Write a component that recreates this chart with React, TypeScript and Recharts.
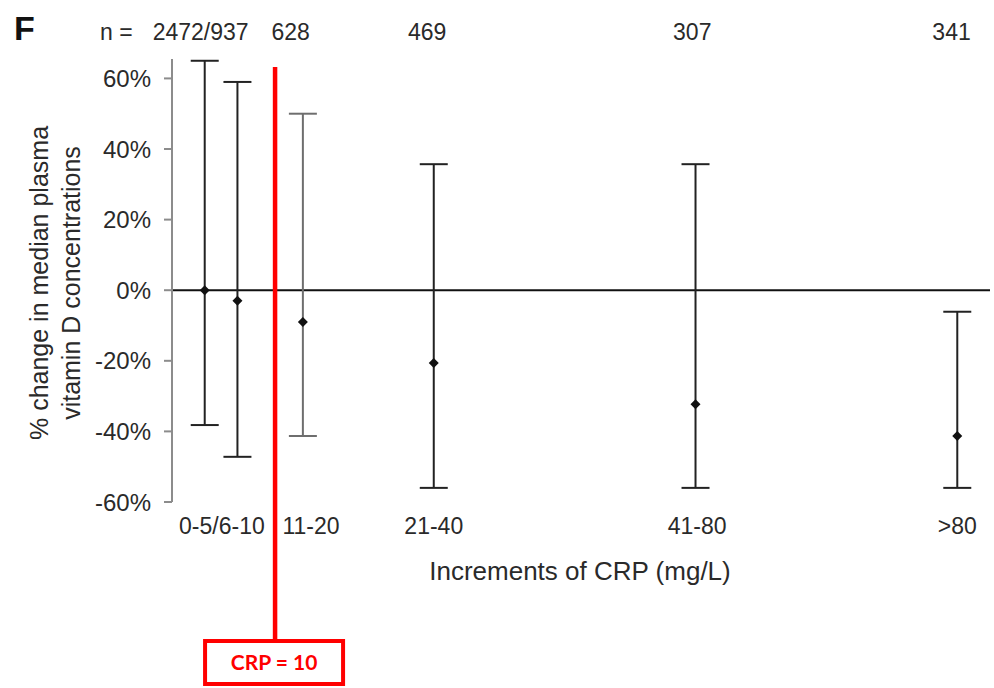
import React from 'react';
import {
  ComposedChart,
  Scatter,
  ErrorBar,
  XAxis,
  YAxis,
  ReferenceLine,
  Customized,
} from 'recharts';

// ---- data ----
const categories = ['0-5', '6-10', '11-20', '21-40', '41-80', '>80'];
const positions = [4, 8, 16, 32, 64, 96]; // placement on the CRP increments axis
const medianChange = [0, -3, -9, -20.6, -32.3, -41.3];
const lowerBound = [-38.2, -47.2, -41.3, -56, -56, -56];
const upperBound = [65, 59, 50, 35.7, 35.7, -6.1];
const greyCategories = ['11-20'];

const bottomTickPositions = [6.1, 17, 32, 64.2, 96];
const bottomTickLabels = ['0-5/6-10', '11-20', '21-40', '41-80', '>80'];
const topTickPositions = [3.5, 14.5, 31.2, 63.6, 95.3];
const topTickLabels = ['2472/937', '628', '469', '307', '341'];
const yTicks = [-60, -40, -20, 0, 20, 40, 60];

const crpCutoffLabel = 'CRP = 10';
const crpCutoffPosition = 12.6;

const rows = categories.map((c, i) => ({
  category: c,
  pos: positions[i],
  median: medianChange[i],
  err: [medianChange[i] - lowerBound[i], upperBound[i] - medianChange[i]],
}));
const darkRows = rows.filter((r) => !greyCategories.includes(r.category));
const greyRows = rows.filter((r) => greyCategories.includes(r.category));

const FONT = '"Liberation Sans", Arial, sans-serif';
const TEXT = '#2a2a2a';

const Diamond = (props: any) => {
  const { cx, cy, fill } = props;
  if (cx == null || cy == null) return null;
  const r = 5;
  return (
    <path
      d={`M${cx},${cy - r} L${cx + r},${cy} L${cx},${cy + r} L${cx - r},${cy} Z`}
      fill={fill}
    />
  );
};

const CutoffShape = (props: any) => {
  const x = props.x1 ?? props.x;
  if (x == null) return null;
  return (
    <g>
      <line x1={x} x2={x} y1={67} y2={640} stroke="#ff0000" strokeWidth={4.5} />
      <rect x={x - 70} y={641} width={138} height={43} fill="#fff" stroke="#ff0000" strokeWidth={4} />
      <text
        x={x - 1}
        y={670}
        textAnchor="middle"
        fill="#ff0000"
        fontFamily="Lato, 'Open Sans', sans-serif"
        fontWeight={700}
        fontSize={21}
      >
        {crpCutoffLabel}
      </text>
    </g>
  );
};

const Annotations = () => (
  <g fontFamily={FONT} fill={TEXT}>
    <text x={14} y={40} fontSize={34} fontWeight={700} fill="#111">
      F
    </text>
    <text x={100} y={40} fontSize={23}>
      n =
    </text>
    <text
      transform="translate(0,283) rotate(-90)"
      textAnchor="middle"
      fontSize={25}
    >
      <tspan x={0} y={48}>% change in median plasma</tspan>
      <tspan x={0} y={80}>vitamin D concentrations</tspan>
    </text>
    <text x={580} y={580} textAnchor="middle" fontSize={26}>
      Increments of CRP (mg/L)
    </text>
  </g>
);

export default function App() {
  return (
    <div style={{ position: 'absolute', left: 0, top: 0, width: 994, height: 688, background: '#fff' }}>
      <ComposedChart
        width={994}
        height={688}
        data={rows}
        margin={{ top: 0, right: 4, bottom: 0, left: 0 }}
      >
        <XAxis
          xAxisId="top"
          orientation="top"
          type="number"
          dataKey="pos"
          domain={[0, 100]}
          height={59}
          ticks={topTickPositions}
          tickFormatter={(v: number) => topTickLabels[topTickPositions.indexOf(v)] ?? ''}
          axisLine={false}
          tickLine={false}
          tickSize={0}
          tickMargin={19}
          tick={{ fontSize: 23, fill: TEXT, fontFamily: FONT }}
          interval={0}
        />
        <XAxis
          xAxisId="bottom"
          orientation="bottom"
          type="number"
          dataKey="pos"
          domain={[0, 100]}
          height={186}
          ticks={bottomTickPositions}
          tickFormatter={(v: number) => bottomTickLabels[bottomTickPositions.indexOf(v)] ?? ''}
          axisLine={false}
          tickLine={false}
          tickSize={0}
          tickMargin={16}
          tick={{ fontSize: 23, fill: TEXT, fontFamily: FONT }}
          interval={0}
        />
        <YAxis
          type="number"
          dataKey="median"
          domain={[-60, 65.5]}
          allowDataOverflow
          width={172}
          ticks={yTicks}
          tickFormatter={(v: number) => `${v}%`}
          axisLine={{ stroke: '#8c8c8c', strokeWidth: 2 }}
          tickLine={{ stroke: '#8c8c8c', strokeWidth: 2 }}
          tickSize={8}
          tickMargin={13}
          tick={{ fontSize: 24, fill: TEXT, fontFamily: FONT }}
          interval={0}
        />
        <ReferenceLine xAxisId="bottom" y={0} stroke="#111" strokeWidth={2} />
        <Scatter
          xAxisId="bottom"
          data={darkRows}
          dataKey="median"
          fill="#111"
          shape={<Diamond />}
          isAnimationActive={false}
        >
          <ErrorBar dataKey="err" direction="y" width={14} stroke="#222" strokeWidth={2} isAnimationActive={false} />
        </Scatter>
        <Scatter
          xAxisId="bottom"
          data={greyRows}
          dataKey="median"
          fill="#111"
          shape={<Diamond />}
          isAnimationActive={false}
        >
          <ErrorBar dataKey="err" direction="y" width={14} stroke="#6e6e6e" strokeWidth={2} isAnimationActive={false} />
        </Scatter>
        <ReferenceLine
          xAxisId="bottom"
          x={crpCutoffPosition}
          ifOverflow="visible"
          shape={<CutoffShape />}
        />
        <Customized component={Annotations} />
      </ComposedChart>
    </div>
  );
}
